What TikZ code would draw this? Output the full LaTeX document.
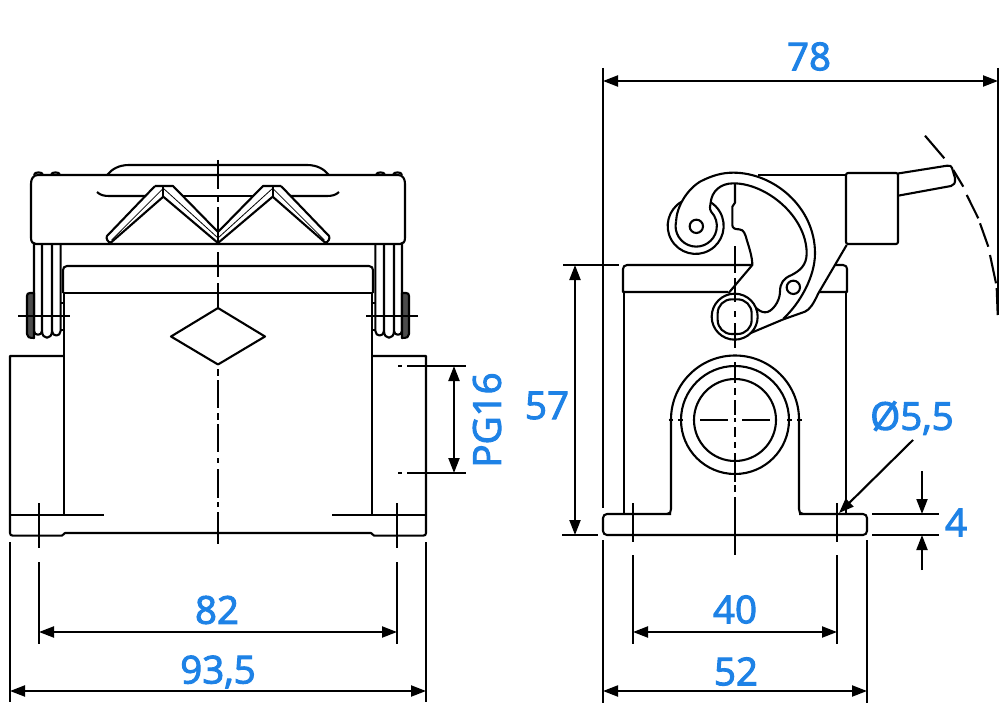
\documentclass[tikz,border=0pt]{standalone}
\usepackage{fontspec}
\setmainfont{Open Sans}[RawFeature={embolden=2.6}]
\usetikzlibrary{arrows.meta}
\definecolor{dimblue}{RGB}{30,130,230}
\tikzset{
  ln/.style={line width=2.1pt,line cap=butt,line join=round,black},
  thinln/.style={line width=.8pt,black},
  dimln/.style={line width=2.1pt,black},
  tip/.tip={Triangle[length=15pt,width=11pt]},
  dimtwo/.style={dimln,{tip}-{tip},shorten >=0pt,shorten <=0pt},
  dimone/.style={dimln,-{tip}},
  dimtext/.style={text=dimblue,font=\fontsize{38.5}{38.5}\selectfont,inner sep=0pt,anchor=center}
}
\newcommand{\halfview}{%
  % lid
  \draw[ln] (218,175) -- (38,175) .. controls (33,175) and (31,179) .. (31,184) -- (31,238) .. controls (31,242) and (33,244) .. (36,244) -- (218,244);
  \draw[ln] (34,175) .. controls (34,171.5) and (43,171.5) .. (43,175);
  \draw[ln] (51,175) .. controls (51,171.5) and (60,171.5) .. (60,175);
  % handle on top
  \draw[ln] (107,175) .. controls (112,169) and (119,165) .. (129,165) -- (218,165);
  \draw[ln] (97,192) .. controls (100,195) and (104,196) .. (109,196) -- (146,196);
  \draw[ln] (183,196) -- (218,196);
  % latch straps
  \draw[ln] (34,244) -- (34,331) .. controls (34,336) and (42,336) .. (42,331) -- (42,244);
  \draw[ln] (42,331) .. controls (42,340) and (52,340) .. (52,331) -- (52,244);
  \draw[ln] (52,331) .. controls (52,337) and (60.6,337) .. (60.6,331) -- (60.6,244);
  \draw[ln,fill=black!70] (34,293) -- (30,293) .. controls (28,293) and (27,294) .. (27,296) -- (27,334) .. controls (27,337) and (29,338) .. (34,338) -- cycle;
  \draw[ln] (18,316) -- (70,316);
  % V shapes
  \draw[ln] (155,186) -- (107,236) .. controls (105.5,238) and (108,243) .. (111,242.5) -- (163.3,196.7) -- (218,243);
  \draw[ln] (155,186) -- (173,186) -- (218,232);
  \draw[ln] (163.3,186) -- (163.3,196.7);
  \draw[thinln] (163.3,188.3) -- (111.7,240);
  \draw[thinln] (163.3,188.3) -- (218,238);
  % body rail
  \draw[ln] (218,266) -- (67,266) .. controls (64.5,266) and (63,268) .. (63,270) -- (63,293);
  \draw[ln] (218,293) -- (64,293) -- (64,515);
  \draw[ln] (60,303) -- (64,303);
  \draw[ln] (60,330) -- (64,330);
  % diamond
  \draw[ln] (218,308) -- (171,336.5) -- (218,364.5);
  % flange
  \draw[ln] (64,356) -- (10,356) -- (10,533) .. controls (10,535) and (11,535.6) .. (13,535.6) -- (62,535.6) -- (65,533) -- (218,533);
  \draw[ln] (10,515) -- (104,515);
  \draw[ln] (39,503) -- (39,548);
  \draw[ln] (39,562) -- (39,644);
  \draw[ln] (10,542) -- (10,702);
}
\begin{document}
\begin{tikzpicture}[x=1pt,y=-1pt]
\useasboundingbox (0,0) rectangle (1000,714);
\fill[white] (0,0) rectangle (1000,714);
% ----- left view
\halfview
\begin{scope}[xshift=436pt,xscale=-1]
\halfview
\end{scope}
% centre line, left view
\foreach \a/\b in {160/189,197/202,207/245,252/277,283/308,369/376,380/408,413/420,424/452,458/463,469/498,502/507,512/544}
  \draw[ln] (218,\a) -- (218,\b);
% PG16 dimension
\coordinate (pgA) at (454,366);
\coordinate (pgB) at (454,473);
\draw[ln] (398,366) -- (402,366) (407,366) -- (466,366);
\draw[ln] (398,473) -- (402,473) (407,473) -- (466,473);
\draw[dimtwo] (pgA) -- (pgB);
\node[dimtext,rotate=90] (pg) at (487,420) {PG16};
% 82, 93,5
\coordinate (a82) at (39,632); \coordinate (b82) at (397,632);
\draw[dimtwo] (a82) -- (b82);
\node[dimtext] (t82) at (217,610) {82};
\coordinate (a93) at (10,691); \coordinate (b93) at (426,691);
\draw[dimtwo] (a93) -- (b93);
\node[dimtext] (t93) at (218,672) {93,5};
% ----- right view
% base and upright
\draw[ln,rounded corners=4pt] (671,514) -- (603,514) -- (603,535) -- (867,535) -- (867,514) -- (799,514);
\draw[ln] (667,514) .. controls (670,514) and (671,512) .. (671,509) -- (671,419.5) arc[start angle=180,end angle=360,radius=64] -- (799,509) .. controls (799,512) and (800,514) .. (803,514);
\draw[ln] (735,420) circle[radius=54];
\draw[ln] (735,420) circle[radius=41];
% outer body
\draw[ln] (624,292) -- (624,514);
\draw[ln] (846,292) -- (846,514);
\draw[ln] (752,265) -- (627,265) .. controls (624.5,265) and (623,267) .. (623,269) -- (623,292) -- (728,292);
\draw[ln] (835,265) -- (843,265) .. controls (846,265) and (847,267) .. (847,269) -- (847,292) -- (820,292);
% top line and lever
\draw[ln] (758,175) -- (846,175);
\draw[ln,rounded corners=2pt] (846,173) rectangle (898,244);
\draw[ln] (898,173.5) -- (947,165.7) .. controls (950,165.3) and (951.5,166) .. (952,168) -- (955,178) .. controls (955.5,183) and (954,185.5) .. (951,186) -- (898,195.7);
% latch in 3x coordinates of the crop
\begin{scope}[shift={(650,150)},x=.33333pt,y=-.33333pt]
  % outer edge of the hook
  \draw[ln] (78,215) .. controls (80,170) and (110,120) .. (150,95) .. controls (185,77) and (215,68) .. (250,68) .. controls (370,68) and (495,170) .. (495,310) .. controls (495,380) and (450,460) .. (400,506);
  % inner edge
  \draw[ln] (78,215) arc[start angle=192,end angle=-44,radius=62] .. controls (178,175) and (180,168) .. (182,158) .. controls (185,125) and (210,100) .. (250,100) .. controls (350,100) and (470,200) .. (470,310) .. controls (470,345) and (450,362) .. (425,375) .. controls (400,385) and (390,400) .. (390,425) .. controls (390,455) and (365,488) .. (345,487) .. controls (335,487) and (325,480) .. (320,475);
  % washer
  \draw[ln] (95,155) arc[start angle=240,end angle=-58,radius=84];
  \draw[ln] (139,229) circle[radius=20];
  \draw[ln] (430,412) circle[radius=20];
  \draw[ln] (254,500) circle[radius=69];
  \draw[ln,rounded corners=14pt] (203,448) rectangle (305,552);
  \draw[ln] (590,285) -- (505,430) .. controls (490,462) and (480,478) .. (465,485) -- (400,508) -- (300,550);
  \draw[ln] (255,100) -- (255,158) -- (247,170) -- (247,225) .. controls (247,235) and (255,238) .. (268,238) .. controls (282,240) and (285,250) .. (291,272) .. controls (300,300) and (307,325) .. (307,345) -- (235,430);
\end{scope}
% centre lines, right view
\foreach \a/\b in {246/273,278/302,311/317,323/348,362/383,388/395,400/415,418/422,427/437,442/448,453/482,485/492,497/555}
  \draw[ln] (735,\a) -- (735,\b);
\foreach \a/\b in {668.5/673,678/683,700/728,742/770,787/792,797/802}
  \draw[ln] (\a,420) -- (\b,420);
% arc of lever travel
\foreach \a/\b/\c/\d in {925/135.7/944.3/158.3,953.3/170/963.3/186.7,966.7/195/978.3/218.3,980/223.3/988.3/246.7,990/255/996/283.3,996.7/288/997.7/315}
  \draw[ln] (\a,\b) -- (\c,\d);
% extension lines
\draw[ln] (603,68) -- (603,508);
\draw[ln] (998,68) -- (998,315);
\draw[ln] (563,265) -- (619,265);
\draw[ln] (562,535) -- (598,535);
\draw[ln] (633,503) -- (633,542) (633,555) -- (633,644);
\draw[ln] (837,503) -- (837,542) (837,555) -- (837,644);
\draw[ln] (603,540) -- (603,703);
\draw[ln] (867,540) -- (867,703);
\draw[ln] (872,514) -- (939,514);
\draw[ln] (872,535) -- (939,535);
% dimensions
\coordinate (a78) at (603,81); \coordinate (b78) at (998,81);
\draw[dimtwo] (a78) -- (b78);
\node[dimtext] (t78) at (809,56.5) {78};
\coordinate (a57) at (575,265); \coordinate (b57) at (575,535);
\draw[dimtwo] (a57) -- (b57);
\node[dimtext] (t57) at (547,405.5) {57};
\coordinate (a40) at (633,632); \coordinate (b40) at (837,632);
\draw[dimtwo] (a40) -- (b40);
\node[dimtext] (t40) at (735,609.5) {40};
\coordinate (a52) at (603,691); \coordinate (b52) at (867,691);
\draw[dimtwo] (a52) -- (b52);
\node[dimtext] (t52) at (736,671.5) {52};
\coordinate (d4a) at (922,471); \coordinate (d4b) at (922,514);
\coordinate (d4c) at (922,570); \coordinate (d4d) at (922,535);
\draw[dimone] (d4a) -- (d4b);
\draw[dimone] (d4c) -- (d4d);
\node[dimtext] (t4) at (956,522.5) {4};
\coordinate (leadA) at (913,440); \coordinate (leadB) at (839,513);
\draw[dimone] (leadA) -- (leadB);
\node[dimtext] (t55) at (912,418) {Ø5,5};
\end{tikzpicture}
\end{document}
